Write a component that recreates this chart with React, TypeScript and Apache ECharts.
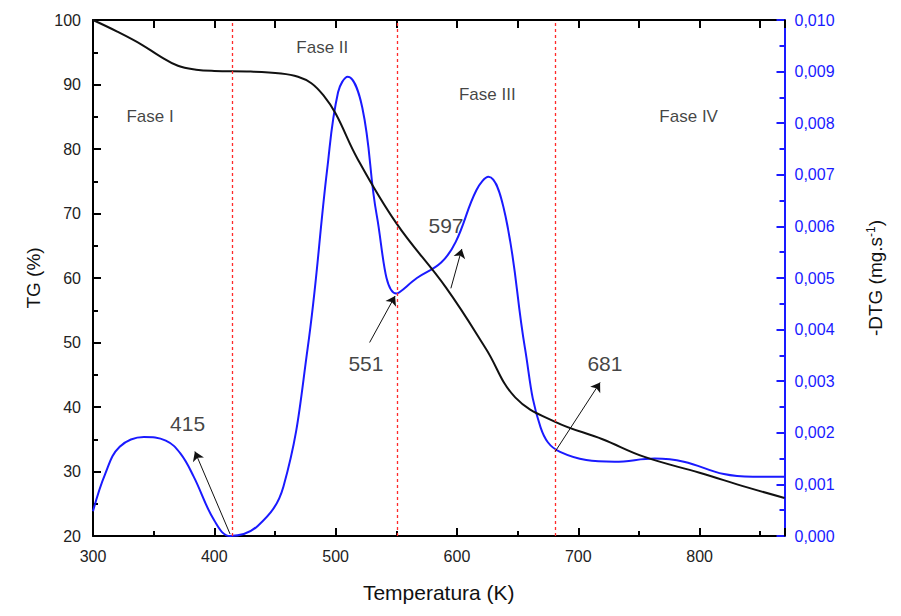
import { useEffect, useRef } from 'react';
import * as echarts from 'echarts';

// TG curve (left axis, %)
const tgT = [300, 320, 340, 355, 370, 385, 400, 430, 455, 469, 480, 490, 500, 518, 550, 591, 624, 648, 681, 720, 754, 800, 840, 870];
const tgV = [100, 98.2, 96.2, 94.4, 92.9, 92.3, 92.1, 92, 91.7, 91.2, 90.2, 88.3, 85.5, 78.5, 68.5, 58.5, 49, 41.5, 37.7, 35, 32.3, 29.8, 27.5, 25.9];

// DTG curve (right axis, mg/s)
const dtgT = [300, 310, 322, 342, 360, 372, 383, 400, 413, 436, 457, 477, 493, 502, 510, 522, 534, 550, 567, 587, 599, 616, 626, 640, 656, 669, 685, 730, 763, 787, 820, 844, 870];
const dtgV = [0.00048, 0.0012, 0.00173, 0.00192, 0.00185, 0.0016, 0.00115, 0.0003, 0.0, 0.0002, 0.00096, 0.00365, 0.0071, 0.0086, 0.0089, 0.0083, 0.0062, 0.0047, 0.005, 0.0053, 0.0057, 0.0067, 0.00696, 0.0062, 0.00365, 0.0021, 0.00163, 0.00144, 0.0015, 0.00144, 0.0012, 0.00115, 0.00115];

// phase boundaries
const phaseLines = [415, 551, 681];
const phaseNames = ['Fase I', 'Fase II', 'Fase III', 'Fase IV'];
const phaseX = [347, 489, 625, 791];
const phaseY = [85, 95.7, 88.5, 85];

// arrow annotations (T, TG)
const arrowFrom = [[413, 20.3], [528, 50], [595, 58.4], [681, 33.1]];
const arrowTo = [[384, 33.1], [549, 57.2], [604, 64.5], [718, 43.8]];
const arrowLabelPos = [[378, 37.5], [525, 46.8], [591, 68.2], [722, 46.8]];
const arrowLabels = ['415', '551', '597', '681'];

const FONT = 'Liberation Sans, Arial, sans-serif';
const INK = '#000000';
const BLUE = '#1a1aff';

export default function App() {
  const chartRef = useRef<HTMLDivElement>(null);

  useEffect(() => {
    if (!chartRef.current) return;
    const chart = echarts.init(chartRef.current, undefined, { renderer: 'svg' });

    const tick = (color: string) => ({ show: true, inside: true, length: 8, lineStyle: { color, width: 2 } });
    const minor = (color: string) => ({ show: true, splitNumber: 2, length: 5, lineStyle: { color, width: 2 } });
    const line = (color: string) => ({ show: true, onZero: false, lineStyle: { color, width: 2 } });

    const option = {
      animation: false,
      grid: { left: 85, right: 101, top: 12, bottom: 68 },
      xAxis: [
        {
          type: 'value', min: 300, max: 870, interval: 100, position: 'bottom',
          name: 'Temperatura (K)', nameLocation: 'middle', nameGap: 46,
          nameTextStyle: { fontFamily: FONT, fontSize: 21, color: '#111' },
          axisLine: line(INK), axisTick: tick(INK), minorTick: minor(INK),
          axisLabel: { fontFamily: FONT, fontSize: 16, color: '#222', margin: 12, showMaxLabel: false },
          splitLine: { show: false },
        },
        {
          type: 'value', min: 300, max: 870, interval: 50, position: 'top',
          axisLine: line(INK), axisTick: tick(INK),
          axisLabel: { show: false },
          splitLine: { show: false },
        },
      ],
      yAxis: [
        {
          type: 'value', min: 20, max: 100, interval: 10, position: 'left',
          name: 'TG (%)', nameLocation: 'middle', nameGap: 50, nameRotate: 90,
          nameTextStyle: { fontFamily: FONT, fontSize: 19, color: '#111' },
          axisLine: line(INK), axisTick: tick(INK), minorTick: minor(INK),
          axisLabel: { fontFamily: FONT, fontSize: 16, color: '#222', margin: 12 },
          splitLine: { show: false },
        },
        {
          type: 'value', min: 0, max: 0.01, interval: 0.001, position: 'right',
          name: '{n|-DTG (mg.s}{s|-1}{n|)}', nameLocation: 'middle', nameGap: 80, nameRotate: 90,
          nameTextStyle: {
            rich: {
              n: { fontFamily: FONT, fontSize: 19, color: '#111' },
              s: { fontFamily: FONT, fontSize: 12, color: '#111', verticalAlign: 'top', padding: [0, 0, 10, 0] },
            },
          },
          axisLine: line(BLUE), axisTick: tick(BLUE), minorTick: minor(BLUE),
          axisLabel: {
            fontFamily: FONT, fontSize: 16, color: BLUE, margin: 10,
            formatter: (v: number) => v.toFixed(3).replace('.', ','),
          },
          splitLine: { show: false },
        },
      ],
      series: [
        {
          type: 'line', name: 'TG', yAxisIndex: 0, smooth: 0.4, symbol: 'none',
          data: tgT.map((t, i) => [t, tgV[i]]),
          lineStyle: { color: '#111', width: 2 },
          z: 3,
          markLine: {
            silent: true, symbol: ['none', 'none'],
            lineStyle: { color: '#ff2a2a', type: [3, 3], width: 1.3 },
            label: { show: false },
            data: phaseLines.map((x) => ({ xAxis: x })),
          },
        },
        {
          type: 'line', name: 'DTG', yAxisIndex: 1, smooth: 0.4, symbol: 'none',
          data: dtgT.map((t, i) => [t, dtgV[i]]),
          lineStyle: { color: BLUE, width: 2 },
          z: 2,
        },
        {
          type: 'scatter', yAxisIndex: 0, symbolSize: 0, silent: true,
          data: phaseNames.map((n, i) => ({ value: [phaseX[i], phaseY[i]], name: n })),
          label: { show: true, position: 'inside', formatter: '{b}', fontFamily: FONT, fontSize: 17, color: '#111' },
          markLine: {
            silent: true, symbol: ['none', 'arrow'], symbolSize: 9,
            lineStyle: { color: '#111', width: 1, type: 'solid' },
            label: { show: false },
            data: arrowFrom.map((f, i) => [{ coord: f }, { coord: arrowTo[i] }]),
          },
        },
        {
          type: 'scatter', yAxisIndex: 0, symbolSize: 0, silent: true,
          data: arrowLabels.map((n, i) => ({ value: arrowLabelPos[i], name: n })),
          label: { show: true, position: 'inside', formatter: '{b}', fontFamily: FONT, fontSize: 21, color: '#111' },
        },
      ],
    };

    chart.setOption(option);
    return () => chart.dispose();
  }, []);

  return <div ref={chartRef} style={{ width: 885, height: 600 }} />;
}
